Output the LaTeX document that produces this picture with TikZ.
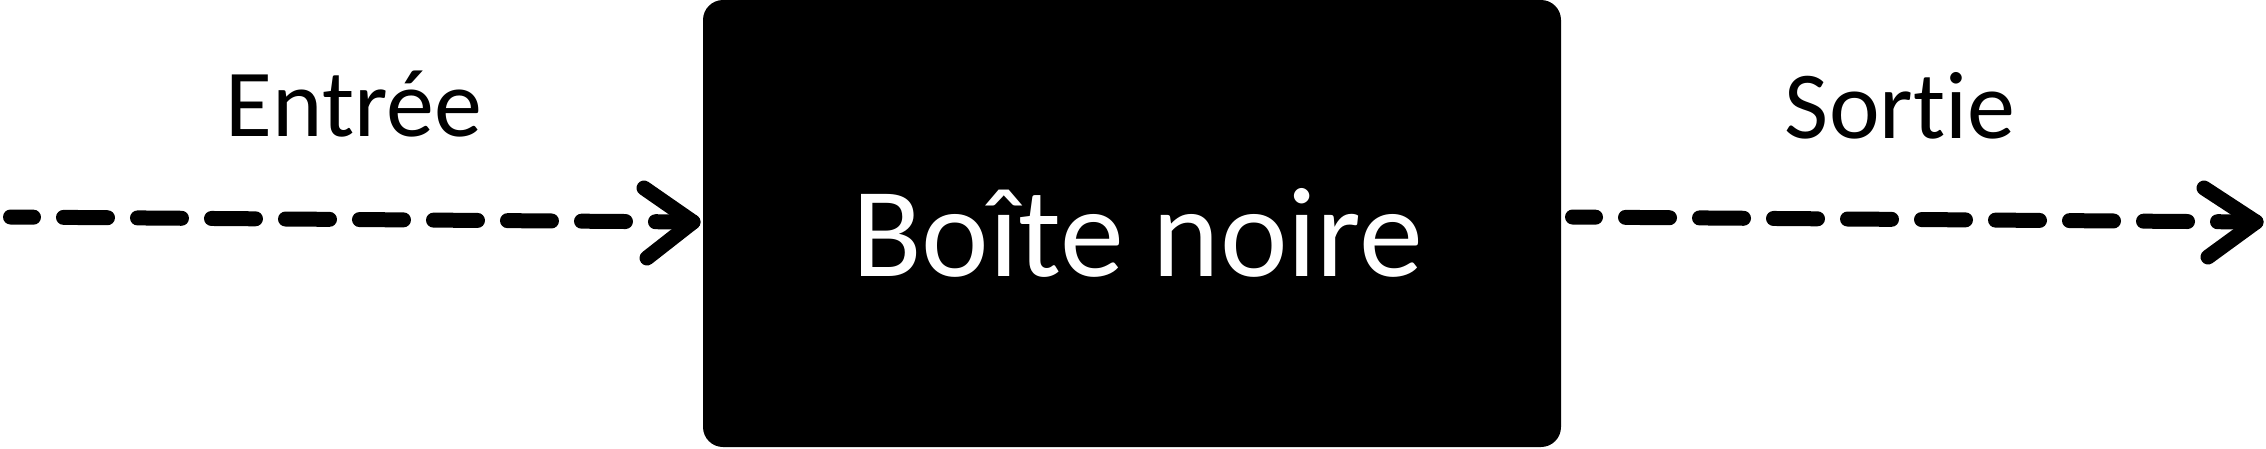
\documentclass[tikz,border=0pt]{standalone}
\usepackage{fontspec}
\setmainfont[Ligatures={NoCommon}]{Carlito}
\begin{document}
\begin{tikzpicture}[x=1pt,y=-1pt,
  dashline/.style={line width=15pt, line cap=round, dash pattern=on 44pt off 30pt, dash phase=21pt},
  chevron/.style={line width=15pt, line cap=round, line join=round},
  blackbox/.style={fill=black, draw=none, rounded corners=20pt, minimum width=858pt, minimum height=447pt, inner sep=0pt},
  lbl/.style={font=\fontsize{96}{100}\selectfont, inner sep=0pt, anchor=base},
  boxlbl/.style={font=\fontsize{128}{134}\selectfont, text=white, inner sep=0pt, anchor=base}]
\useasboundingbox (0,0) rectangle (2266,448);
\node[blackbox] (box) at (1132,223.5) {};
\node[boxlbl] (boxtext) at (1138,276) {Boîte noire};
\node[lbl] (entree) at (354,136) {Entrée};
\node[lbl] (sortie) at (1900,138) {Sortie};
% left connector
\coordinate (inS) at (10.5,217);
\coordinate (inT) at (693,222);
\coordinate (inA) at (644,188);
\coordinate (inB) at (647,258);
\draw[dashline] (inS) -- (inT);
\draw[chevron] (inA) -- (inT) -- (inB);
% right connector
\coordinate (outS) at (1572.5,217);
\coordinate (outT) at (2256,222);
\coordinate (outA) at (2204,188);
\coordinate (outB) at (2208,257);
\draw[dashline] (outS) -- (outT);
\draw[chevron] (outA) -- (outT) -- (outB);
\end{tikzpicture}
\end{document}
